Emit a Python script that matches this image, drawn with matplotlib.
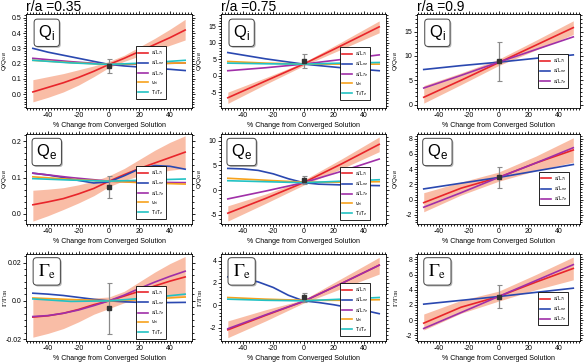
import matplotlib
matplotlib.use("Agg")
import matplotlib.pyplot as plt
import matplotlib.patheffects as pe
from matplotlib.ticker import AutoMinorLocator, FixedLocator

plt.rcParams.update({"font.family": ["Liberation Sans", "DejaVu Sans"],
                     "font.size": 5, "axes.unicode_minus": False})

# x positions of the sampled points
x5 = [-50, -25, 0, 25, 50]
x11 = [-50, -40, -30, -20, -10, 0, 10, 20, 30, 40, 50]

radii = ["0.35", "0.75", "0.9"]
legend_names = [r"a/L$_{Ti}$", r"a/L$_{ne}$", r"a/L$_{Te}$", r"$\nu_{ei}$", r"T$_i$/T$_e$"]

# ---- Q_i ----
qi1_lo = [-0.05, -0.02, 0.015, 0.06, 0.115, 0.175, 0.215, 0.25, 0.285, 0.32, 0.355]
qi1_hi = [0.095, 0.115, 0.135, 0.16, 0.185, 0.215, 0.255, 0.31, 0.365, 0.425, 0.49]
qi1_ti = [0.015, 0.045, 0.075, 0.11, 0.15, 0.195, 0.235, 0.28, 0.325, 0.37, 0.42]
qi1_ne = [0.30, 0.275, 0.255, 0.235, 0.215, 0.195, 0.185, 0.178, 0.17, 0.163, 0.155]
qi1_te = [0.235, 0.213, 0.195, 0.198, 0.205]
qi1_nu = [0.222, 0.207, 0.195, 0.2, 0.205]
qi1_tau = [0.222, 0.205, 0.195, 0.205, 0.222]
qi1_pt, qi1_err = 0.183, 0.047

qi2_lo = [-8.4, -2.6, 3.0, 8.0, 13.0]
qi2_hi = [-5.0, -0.6, 4.0, 10.2, 16.6]
qi2_ti = [-6.7, -1.6, 3.5, 9.1, 14.8]
qi2_ne = [7.0, 5.1, 3.5, 2.4, 1.5]
qi2_te = [1.5, 2.4, 3.5, 4.9, 6.3]
qi2_nu = [4.3, 3.8, 3.5, 3.5, 3.5]
qi2_tau = [3.8, 3.6, 3.5, 3.8, 4.0]
qi2_pt, qi2_err = 4.5, 2.2

qi3_lo = [0.3, 4.1, 8.0, 11.2, 14.4]
qi3_hi = [3.9, 6.5, 9.3, 13.2, 17.2]
qi3_ti = [1.5, 5.0, 8.6, 12.2, 15.8]
qi3_ne = [7.2, 8.0, 8.7, 9.5, 10.2]
qi3_te = [3.4, 6.0, 8.7, 11.3, 13.9]
qi3_pt, qi3_err = 8.9, 4.0

# ---- Q_e ----
qe1_lo = [-0.02, -0.005, 0.012, 0.03, 0.05, 0.075, 0.092, 0.105, 0.113, 0.12, 0.125]
qe1_hi = [0.065, 0.068, 0.072, 0.08, 0.09, 0.105, 0.125, 0.15, 0.175, 0.197, 0.215]
qe1_ti = [0.025, 0.033, 0.042, 0.055, 0.07, 0.09, 0.108, 0.125, 0.14, 0.155, 0.17]
qe1_ne = [0.112, 0.107, 0.1, 0.092, 0.085, 0.088, 0.105, 0.124, 0.133, 0.131, 0.123]
qe1_te = [0.112, 0.1, 0.09, 0.087, 0.086]
qe1_nu = [0.102, 0.095, 0.09, 0.085, 0.082]
qe1_tau = [0.097, 0.093, 0.09, 0.093, 0.096]
qe1_pt, qe1_err = 0.075, 0.03

qe2_lo = [-6.3, -2.7, 1.0, 4.3, 7.8]
qe2_hi = [-3.2, -0.8, 2.0, 6.3, 10.8]
qe2_ti = [-4.7, -1.7, 1.5, 5.3, 9.3]
qe2_ne = [4.4, 4.3, 4.0, 3.3, 2.3, 1.5, 1.2, 1.1, 1.0, 0.95, 0.9]
qe2_te = [-1.8, -0.2, 1.5, 3.8, 6.3]
qe2_nu = [2.4, 2.0, 1.6, 1.6, 1.7]
qe2_tau = [1.9, 1.7, 1.5, 1.8, 2.1]
qe2_pt, qe2_err = 2.1, 0.85

qe3_lo = [-1.6, 0.6, 2.4, 3.8, 4.9]
qe3_hi = [0.9, 2.3, 3.6, 5.7, 8.1]
qe3_ti = [-0.4, 1.5, 2.9, 4.8, 6.5]
qe3_ne = [1.4, 2.15, 2.9, 3.75, 4.6]
qe3_te = [-1.0, 0.9, 2.9, 4.8, 6.8]
qe3_pt, qe3_err = 2.9, 1.4

# ---- Gamma_e ----
ge1_lo = [-0.019, -0.017, -0.0145, -0.011, -0.007, -0.004, -0.001, 0.0005, 0.0015, 0.002, 0.0025]
ge1_hi = [0.001, 0.001, 0.001, 0.0012, 0.0015, 0.002, 0.005, 0.01, 0.015, 0.0195, 0.0232]
ge1_ti = [-0.0085, -0.0078, -0.0065, -0.0045, -0.002, 0.0, 0.0025, 0.005, 0.0078, 0.0103, 0.0125]
ge1_ne = [0.004, 0.0035, 0.0028, 0.0018, 0.0008, 0.0, -0.0005, -0.0008, -0.0009, -0.0009, -0.0008]
ge1_te = [-0.0082, -0.0077, -0.0065, -0.0048, -0.0025, 0.0, 0.003, 0.0065, 0.0098, 0.0128, 0.0155]
ge1_nu = [0.0015, 0.0007, 0.0, 0.0008, 0.002]
ge1_tau = [0.001, -0.0003, 0.0, 0.0015, 0.0035]
ge1_pt, ge1_err = -0.004, 0.0133

ge2_lo = [-2.9, -1.4, 0.2, 1.5, 2.8]
ge2_hi = [-1.4, -0.4, 0.5, 2.4, 4.3]
ge2_ti = [-2.2, -0.9, 0.35, 1.95, 3.6]
ge2_ne = [2.55, 2.4, 2.1, 1.6, 0.9, 0.4, 0.25, 0.05, -0.2, -0.45, -0.75]
ge2_te = [-2.1, -0.85, 0.35, 1.95, 3.6]
ge2_nu = [0.7, 0.55, 0.45, 0.45, 0.5]
ge2_tau = [0.55, 0.45, 0.4, 0.55, 0.7]
ge2_pt, ge2_err = 0.7, 0.38

ge3_lo = [-1.3, 0.9, 2.5, 4.0, 5.3]
ge3_hi = [0.8, 2.6, 3.8, 6.0, 8.3]
ge3_ti = [-0.4, 1.7, 3.1, 5.0, 6.8]
ge3_ne = [2.1, 2.6, 3.1, 3.65, 4.2]
ge3_te = [-1.1, 1.0, 3.1, 5.2, 7.3]
ge3_pt, ge3_err = 3.1, 1.5

colours = ["#e8252b", "#2a48b0", "#a02fa8", "#f7a21c", "#22c2c4"]
band_colour = "#f9bda6"


def xs(vals):
	return x11 if len(vals) == 11 else x5


def panel(ax, lo, hi, lines, pt, err, ylim, yticks, ylabels, label, ylabel, anchor):
	ax.fill_between(xs(lo), lo, hi, color=band_colour, lw=0, zorder=1)
	for i, vals in enumerate(lines):
		ax.plot(xs(vals), vals, color=colours[i], lw=1.2, label=legend_names[i], zorder=3)
	ax.errorbar([0], [pt], yerr=[err], fmt="s", color="#333333", ms=3.5, ecolor="#8a8a8a",
				elinewidth=0.9, capsize=1.8, capthick=0.8, zorder=4)
	ax.set_xlim(-54.5, 54.5)
	ax.set_ylim(*ylim)
	ax.xaxis.set_major_locator(FixedLocator([-40, -20, 0, 20, 40]))
	ax.yaxis.set_major_locator(FixedLocator(yticks))
	ax.set_yticklabels(ylabels)
	ax.xaxis.set_minor_locator(AutoMinorLocator(10))
	ax.yaxis.set_minor_locator(AutoMinorLocator(6))
	ax.tick_params(which="both", direction="out", top=True, right=True, width=0.6, pad=1.2)
	ax.tick_params(which="major", length=2.0)
	ax.tick_params(which="minor", length=1.2)
	for s in ax.spines.values():
		s.set_linewidth(0.6)
	ax.set_xlabel("% Change from Converged Solution", labelpad=1.5)
	if label.startswith(r"$\Gamma"):
		ax.set_ylabel(ylabel, math_fontfamily="stix", fontsize=5)
		t = ax.text(0.125, 0.8, label, transform=ax.transAxes, ha="center", va="center",
					fontsize=13, math_fontfamily="stix", zorder=6)
		off = 16
	else:
		ax.set_ylabel(ylabel, fontsize=4.6)
		t = ax.text(0.125, 0.8, label, transform=ax.transAxes, ha="center", va="center",
					fontsize=12, zorder=6)
		off = 17
	# ylabel sits a fixed number of pixels left of the frame
	ax.yaxis.set_label_coords(-off / (ax.get_position().width * 587), 0.5)
	t.set_bbox(dict(boxstyle="round,pad=0.25,rounding_size=0.2", fc="white", ec="#444444", lw=0.7))
	t.get_bbox_patch().set_path_effects([pe.withSimplePatchShadow(offset=(1, -1), alpha=0.4)])
	leg = ax.legend(loc="lower right", bbox_to_anchor=anchor, fontsize=3.6, handlelength=2.0,
					handletextpad=0.6, borderpad=0.4, labelspacing=0.25, fancybox=False,
					framealpha=1, edgecolor="black")
	leg.get_frame().set_linewidth(0.6)
	leg.set_zorder(5)


fig = plt.figure(figsize=(5.87, 3.63), dpi=100)
lefts = [0.0443, 0.3765, 0.7104]
widths = [0.2828, 0.2811, 0.2777]
bottoms = [0.7025, 0.3829, 0.0606]
heights = [0.259, 0.248, 0.2397]
axes = [[fig.add_axes([lefts[c], bottoms[r], widths[c], heights[r]]) for c in range(3)] for r in range(3)]

qlab = r"Q/Q$_{GB}$"
glab = r"$\Gamma/\Gamma_{\rm GB}$"

panel(axes[0][0], qi1_lo, qi1_hi, [qi1_ti, qi1_ne, qi1_te, qi1_nu, qi1_tau], qi1_pt, qi1_err,
	  (-0.09, 0.525), [0, 0.1, 0.2, 0.3, 0.4, 0.5], ["0.0", "0.1", "0.2", "0.3", "0.4", "0.5"],
	  r"Q$_\mathregular{i}$", qlab, (0.86, 0.07))
panel(axes[0][1], qi2_lo, qi2_hi, [qi2_ti, qi2_ne, qi2_te, qi2_nu, qi2_tau], qi2_pt, qi2_err,
	  (-9.8, 18.7), [-5, 0, 5, 10, 15], ["-5", "0", "5", "10", "15"],
	  r"Q$_\mathregular{i}$", qlab, (0.92, 0.06))
panel(axes[0][2], qi3_lo, qi3_hi, [qi3_ti, qi3_ne, qi3_te], qi3_pt, qi3_err,
	  (-0.7, 18.6), [0, 5, 10, 15], ["0", "5", "10", "15"],
	  r"Q$_\mathregular{i}$", qlab, (0.94, 0.19))
panel(axes[1][0], qe1_lo, qe1_hi, [qe1_ti, qe1_ne, qe1_te, qe1_nu, qe1_tau], qe1_pt, qe1_err,
	  (-0.028, 0.22), [0, 0.1, 0.2], ["0.0", "0.1", "0.2"],
	  r"Q$_\mathregular{e}$", qlab, (0.86, 0.03))
panel(axes[1][1], qe2_lo, qe2_hi, [qe2_ti, qe2_ne, qe2_te, qe2_nu, qe2_tau], qe2_pt, qe2_err,
	  (-6.9, 11.4), [-5, 0, 5, 10], ["-5", "0", "5", "10"],
	  r"Q$_\mathregular{e}$", qlab, (0.92, 0.02))
panel(axes[1][2], qe3_lo, qe3_hi, [qe3_ti, qe3_ne, qe3_te], qe3_pt, qe3_err,
	  (-3.2, 8.6), [-2, 0, 2, 4, 6, 8], ["-2", "0", "2", "4", "6", "8"],
	  r"Q$_\mathregular{e}$", qlab, (0.95, 0.18))
panel(axes[2][0], ge1_lo, ge1_hi, [ge1_ti, ge1_ne, ge1_te, ge1_nu, ge1_tau], ge1_pt, ge1_err,
	  (-0.021, 0.0245), [-0.02, 0, 0.02], ["-0.02", "0.0", "0.02"],
	  r"$\Gamma_{\rm e}$", glab, (0.86, 0.0))
panel(axes[2][1], ge2_lo, ge2_hi, [ge2_ti, ge2_ne, ge2_te, ge2_nu, ge2_tau], ge2_pt, ge2_err,
	  (-3.2, 4.6), [-2, 0, 2, 4], ["-2", "0", "2", "4"],
	  r"$\Gamma_{\rm e}$", glab, (0.92, 0.03))
panel(axes[2][2], ge3_lo, ge3_hi, [ge3_ti, ge3_ne, ge3_te], ge3_pt, ge3_err,
	  (-2.75, 8.7), [-2, 0, 2, 4, 6, 8], ["-2", "0", "2", "4", "6", "8"],
	  r"$\Gamma_{\rm e}$", glab, (0.94, 0.15))

for c in range(3):
	axes[0][c].set_title("r/a =" + radii[c], loc="left", fontsize=10, pad=1.5)

fig.savefig("out.png", dpi=100)
